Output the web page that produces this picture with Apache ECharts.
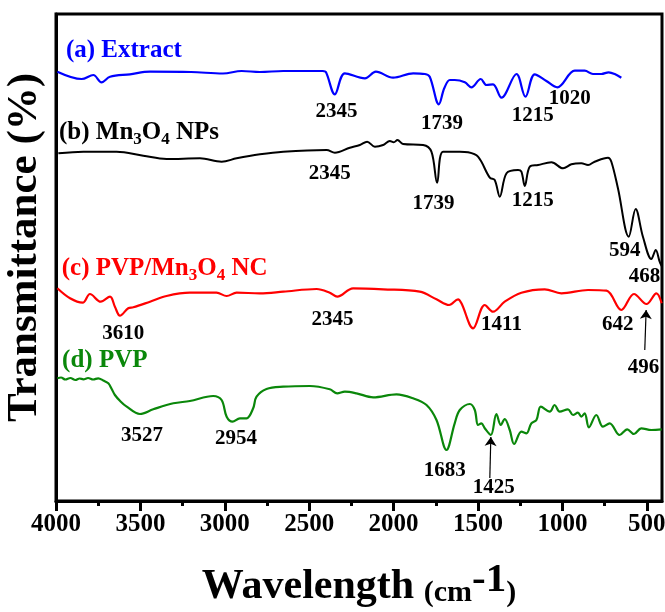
<!DOCTYPE html>
<html>
<head>
<meta charset="utf-8">
<script src="https://cdn.jsdelivr.net/npm/echarts@6/dist/echarts.min.js"></script>
<style>html,body{margin:0;padding:0;background:#fff}#c{width:665px;height:612px}</style>
</head>
<body>
<div id="c"></div>
<script>
// ---- data (wavenumber cm-1, transmittance in arbitrary offset units) ----
const xTickValues = [4000, 3500, 3000, 2500, 2000, 1500, 1000, 500];
const xMinorTicks = [3750, 3250, 2750, 2250, 1750, 1250, 750];

const extractData = [
  [3992,429.3],[3848,422],[3779,426],[3730,418.7],[3680,424.3],[3562,426.7],[3443,429.3],
  [3200,429],[3011,427.5],[2900,430],[2792,429],[2654,430],[2419,430],[2401,429],
  [2348,406.7],[2289,427.7],[2170,422.7],[2105,429.3],[2003,423.3],[1884,427.7],[1815,427],
  [1786,424.3],[1732,396.7],[1700,412.7],[1667,421],[1638,421],[1578,418.7],[1539,413.7],
  [1484,422],[1450,416],[1411,416.7],[1361,403.3],[1272,427],[1219,404.3],[1164,426.7],
  [1095,420],[1030,413.7],[927,430.3],[868,430.3],[819,427],[769,427],[726,428.7],[690,427],[651,423.3]
];
const mn3o4Data = [
  [3986,347.7],[3838,349.3],[3641,349.3],[3483,345.3],[3345,342],[3147,342.7],[3019,339.3],
  [2930,342.7],[2792,346.7],[2654,349.3],[2397,351],[2348,348.3],[2259,353.3],[2200,356],
  [2157,359.3],[2111,354.3],[2062,356],[2022,360],[1999,358.7],[1977,361],[1944,357],
  [1825,356],[1776,349.3],[1742,318.3],[1707,349.3],[1608,349.3],[1559,348.7],[1500,344.3],
  [1430,323.3],[1401,321],[1371,304.3],[1331,327.7],[1263,331],[1243,329.3],[1223,315],
  [1193,334.3],[1144,336],[1065,338.7],[996,332.7],[947,336.7],[888,337.7],[848,336],
  [809,339.3],[730,343.3],[710,339.3],[671,312.7],[607,264.3],[566,292],[523,264.3],
  [473,242],[447,251],[424,239.3],[412,235]
];
const pvpMn3o4Data = [
  [3992,212.7],[3917,202.7],[3842,198.3],[3799,207],[3735,199.3],[3680,204.3],[3651,194.3],
  [3621,185.3],[3572,192.7],[3542,193.7],[3443,199.3],[3345,205],[3207,208.3],[3049,208.3],
  [2989,205],[2930,208.3],[2792,207.7],[2654,209.3],[2456,212],[2378,208.3],[2334,204.3],
  [2240,212.7],[2062,211.7],[1845,209.3],[1746,201.7],[1671,196],[1618,201.7],[1598,197.7],
  [1529,172.7],[1460,196],[1411,189.3],[1342,199.3],[1243,208.3],[1105,211.7],[1006,207.7],
  [848,211],[739,210.3],[651,191],[576,207],[502,197],[443,207.7],[412,197.7]
];
const pvpData = [
  [3992,122.7],[3970,123.5],[3945,121.5],[3915,123],[3885,121],[3860,122.5],[3838,121.7],
  [3810,123],[3780,121.5],[3750,122.7],[3720,120.5],[3690,117.7],[3670,112],[3651,106],
  [3620,100],[3581,94.3],[3503,87],[3424,91.7],[3305,97.7],[3207,100],[3069,105],[3019,101],
  [2989,84.3],[2954,79.3],[2911,82.7],[2871,82.7],[2832,92.7],[2812,104.3],[2753,112],
  [2654,114.3],[2496,115],[2378,111.7],[2334,107.7],[2289,109.3],[2220,107.7],[2121,103.7],
  [1983,106.7],[1884,102.7],[1805,96],[1746,81],[1687,51],[1638,77.7],[1608,91],[1548,97],
  [1519,91],[1500,76],[1480,77.7],[1460,72.7],[1424,66],[1391,87],[1365,76],[1342,82],
  [1312,71],[1286,57],[1243,69.3],[1213,67.7],[1184,77.7],[1154,81],[1128,94.3],[1075,89.3],
  [1046,96],[1016,89.3],[967,91.7],[937,86],[908,88.3],[888,84.3],[868,87.7],[843,73.7],
  [799,86],[760,74.3],[720,77.7],[661,66],[616,71.7],[576,67],[533,72.7],[473,71],[412,71.7]
];

const curveLabels = [
  {value:[3941,450], name:'(a) Extract', color:'#0000ff'},
  {value:[3982,368], name:'(b) Mn{s|3}O{s|4} NPs', color:'#000000'},
  {value:[3966,232], name:'(c) PVP/Mn{s|3}O{s|4} NC', color:'#ff0000'},
  {value:[3964,140], name:'(d) PVP', color:'#0a870a'}
];
const peakLabels = [
  {value:[2339,389], name:'2345'},{value:[1714,377.3], name:'1739'},
  {value:[1176,385.3], name:'1215'},{value:[957,402], name:'1020'},
  {value:[2378,327], name:'2345'},{value:[1764,297], name:'1739'},
  {value:[1176,300], name:'1215'},{value:[631,250.3], name:'594'},
  {value:[513,224], name:'468'},{value:[3601,167], name:'3610'},
  {value:[2362,181], name:'2345'},{value:[1361,176.7], name:'1411'},
  {value:[672,176], name:'642'},{value:[520,133.7], name:'496'},
  {value:[3491,65.7], name:'3527'},{value:[2934,62.3], name:'2954'},
  {value:[1697,30.3], name:'1683'},{value:[1407,13], name:'1425'}
];
const arrows = [
  [[1430,23],[1424,64]],
  [[512,151],[504,191]]
];

const FONT = '"Liberation Serif","Times New Roman",serif';
const chart = echarts.init(document.getElementById('c'), null, {renderer:'canvas'});

function curve(name, data, color, width) {
  return {type:'line', name, data, showSymbol:false, symbol:'none', smooth:0.35,
    lineStyle:{color, width}, silent:true, z:3};
}

chart.setOption({
  animation:false,
  backgroundColor:'#fff',
  grid:{left:56, right:3, top:14, bottom:111, show:true, borderColor:'#000', borderWidth:3,
        containLabel:false, outerBoundsMode:'none'},
  xAxis:[{
    type:'value', min:410, max:4000, inverse:true,
    axisLine:{show:true, lineStyle:{color:'#000', width:3}},
    axisTick:{show:true, inside:false, length:10, lineStyle:{color:'#000', width:3}, customValues:xTickValues},
    axisLabel:{show:true, customValues:xTickValues, formatter: v => String(v), color:'#000',
      fontFamily:FONT, fontWeight:'bold', fontSize:25, margin:11, hideOverlap:false},
    splitLine:{show:false},
    name:'{w|Wavelength} {s|(cm}{p|-1}{s|)}', nameLocation:'middle', nameGap:59,
    nameTextStyle:{color:'#000', fontFamily:FONT, fontWeight:'bold', fontSize:38,
      rich:{
        w:{fontFamily:FONT, fontWeight:'bold', fontSize:42, color:'#000', verticalAlign:'bottom', lineHeight:48},
        s:{fontFamily:FONT, fontWeight:'bold', fontSize:30, color:'#000', verticalAlign:'bottom', lineHeight:37},
        p:{fontFamily:FONT, fontWeight:'bold', fontSize:41, color:'#000', verticalAlign:'top', lineHeight:38}
      }}
  },{
    type:'value', min:410, max:4000, inverse:true, position:'bottom',
    axisLine:{show:false},
    axisTick:{show:true, length:5, lineStyle:{color:'#000', width:3}, customValues:xMinorTicks},
    axisLabel:{show:false}, splitLine:{show:false}
  }],
  yAxis:{
    type:'value', min:0, max:487,
    axisLine:{show:true, lineStyle:{color:'#000', width:3}},
    axisTick:{show:false}, axisLabel:{show:false}, splitLine:{show:false},
    name:'Transmittance (%)', nameLocation:'middle', nameGap:10, nameRotate:90,
    nameTextStyle:{color:'#000', fontFamily:FONT, fontWeight:'bold', fontSize:43, padding:[0,0,0,20]}
  },
  series:[
    curve('(a) Extract', extractData, '#0000ff', 2.2),
    curve('(b) Mn3O4 NPs', mn3o4Data, '#000000', 2),
    curve('(c) PVP/Mn3O4 NC', pvpMn3o4Data, '#ff0000', 2.2),
    curve('(d) PVP', pvpData, '#0a870a', 2.2),
    {type:'scatter', symbolSize:0, silent:true, z:5, itemStyle:{opacity:1},
      data: curveLabels.map(d => ({value:d.value, name:d.name,
        label:{color:d.color, rich:{
          s:{color:d.color, fontFamily:FONT, fontWeight:'bold', fontSize:17, verticalAlign:'bottom', lineHeight:18}
        }}})),
      label:{show:true, position:'right', distance:0, formatter:'{b}', fontFamily:FONT, fontWeight:'bold', fontSize:25, lineHeight:30}
    },
    {type:'scatter', symbolSize:0, silent:true, z:5, itemStyle:{opacity:1},
      data: peakLabels,
      label:{show:true, position:'inside', formatter:'{b}', color:'#000', fontFamily:FONT, fontWeight:'bold', fontSize:21}
    },
    {type:'lines', coordinateSystem:'cartesian2d', silent:true, z:4,
      symbol:['none','arrow'], symbolSize:9,
      lineStyle:{color:'#000', width:1.2, opacity:1},
      data: arrows.map(c => ({coords:c}))
    }
  ]
});
</script>
</body>
</html>
